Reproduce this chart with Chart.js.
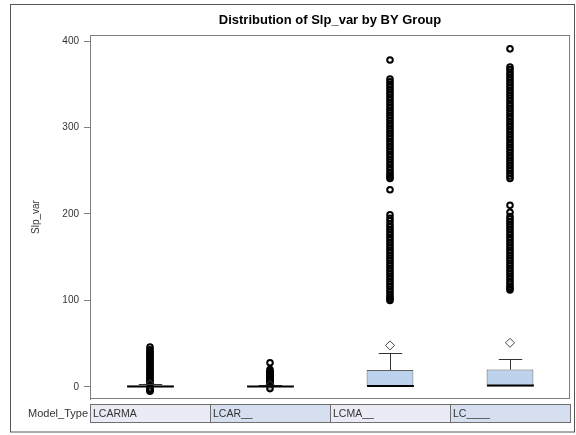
<!DOCTYPE html>
<html>
<head>
<meta charset="utf-8">
<script src="https://cdn.jsdelivr.net/npm/chart.js@4.4.1/dist/chart.umd.min.js"></script>
<style>
  body { margin: 0; background: #fff; }
  canvas { display: block; }
</style>
</head>
<body>
<canvas id="myChart" width="576" height="435"></canvas>
<script>
// groups and box statistics
const groups = ["LCARMA", "LCAR__", "LCMA__", "LC____"];
const q1 = [0, 0, 0, 0];
const median = [0.5, 0.5, 1, 1.5];
const q3 = [1.5, 1, 19.5, 20];
const whiskerLo = [-1.5, -1, 0, 0];
const whiskerHi = [3.5, 2.5, 39, 32];
const means = [3, 2, 48, 51];
const yTicks = [0, 100, 200, 300, 400];

// outliers per group
const outLCARMA = [46, 43, 41, 39, 37, 35, 33, 31, 29, 27, 25, 23, 21, 19, 17, 15, 13, 11, 9, 7, 5, 4, -2, -3, -4, -5];
const outLCAR = [28, 20, 18, 17, 16, 15, 14, 13, 12, 11, 10, 9, 8, 7, 6, 5, 4, -2];
const outLCMA = [378, 356, 353, 350, 347, 344, 341, 338, 335, 332, 329, 326, 323, 320, 317, 314, 311, 308,
    305, 302, 299, 296, 293, 290, 287, 284, 281, 278, 275, 272, 269, 266, 263, 260, 257, 254, 251, 248,
    245, 243, 241, 228, 199, 195, 192, 188, 185, 182, 179, 176, 173, 170, 167, 164, 161, 158, 155, 152,
    149, 146, 143, 140, 137, 134, 131, 128, 125, 122, 119, 116, 113, 110, 107, 104, 102, 100];
const outLC = [391, 370, 367, 364, 361, 358, 355, 352, 349, 346, 343, 340, 337, 334, 331, 328, 325, 322,
    319, 316, 313, 310, 307, 304, 301, 298, 295, 292, 289, 286, 283, 280, 277, 274, 271, 268, 265, 262,
    259, 256, 253, 250, 247, 244, 241, 210, 202, 197, 194, 191, 188, 185, 182, 179, 176, 173, 170, 167,
    164, 161, 158, 155, 152, 149, 146, 143, 140, 137, 134, 131, 128, 125, 122, 119, 116, 114, 112];
const outliers = [outLCARMA, outLCAR, outLCMA, outLC];

const FONT = "'Liberation Sans', Arial, sans-serif";

function pts(i, list) {
    return list.map(v => ({ x: groups[i], y: v }));
}

// page frame, title and the Model_Type strip
const decor = {
    id: 'decor',
    beforeDraw(chart) {
        const c = chart.ctx;
        c.save();
        c.fillStyle = '#fff';
        c.fillRect(0, 0, chart.width, chart.height);
        c.restore();
    },
    afterDraw(chart) {
        const c = chart.ctx;
        const a = chart.chartArea;
        const x = chart.scales.x;
        c.save();
        c.strokeStyle = '#555';
        c.lineWidth = 1;
        c.strokeRect(10.5, 4.5, 564, 427.5);

        c.strokeStyle = '#7f7f7f';
        c.strokeRect(a.left + 0.5, a.top + 0.5, a.right - a.left - 1, a.bottom - a.top - 1);

        c.fillStyle = '#000';
        c.font = 'bold 13px ' + FONT;
        c.textAlign = 'center';
        c.textBaseline = 'middle';
        c.fillText('Distribution of Slp_var by BY Group', (a.left + a.right) / 2, 20);

        const top = a.bottom + 5, h = 18;
        const w = x.getPixelForValue(1) - x.getPixelForValue(0);
        groups.forEach((g, i) => {
            const cx = x.getPixelForValue(i);
            const l = cx - w / 2;
            c.fillStyle = i % 2 ? '#d5dff0' : '#ebebf5';
            c.fillRect(l, top, w, h);
            c.strokeStyle = '#6f6f6f';
            c.strokeRect(Math.round(l) + 0.5, top + 0.5, w, h);
            c.fillStyle = '#333';
            c.font = '10.5px ' + FONT;
            c.textAlign = 'left';
            c.fillText(g, l + 3, top + h / 2 + 1);
        });
        c.fillStyle = '#333';
        c.font = '11px ' + FONT;
        c.textAlign = 'right';
        c.fillText('Model_Type', a.left - 2, top + h / 2 + 1);
        c.restore();
    }
};

// whiskers and medians
const boxParts = {
    id: 'boxParts',
    afterDatasetsDraw(chart) {
        const c = chart.ctx;
        const x = chart.scales.x, y = chart.scales.y;
        const bw = chart.getDatasetMeta(0).data[0].width;
        c.save();
        groups.forEach((g, i) => {
            const cx = Math.round(x.getPixelForValue(i)) + 0.5;
            c.strokeStyle = '#333';
            c.lineWidth = 1;
            c.beginPath();
            c.moveTo(cx, y.getPixelForValue(q3[i]));
            c.lineTo(cx, y.getPixelForValue(whiskerHi[i]));
            c.moveTo(cx - bw / 4, Math.round(y.getPixelForValue(whiskerHi[i])) + 0.5);
            c.lineTo(cx + bw / 4, Math.round(y.getPixelForValue(whiskerHi[i])) + 0.5);
            c.moveTo(cx, y.getPixelForValue(q1[i]));
            c.lineTo(cx, y.getPixelForValue(whiskerLo[i]));
            c.stroke();
            c.strokeStyle = '#000';
            c.lineWidth = 2;
            c.beginPath();
            c.moveTo(cx - bw / 2, y.getPixelForValue(median[i]));
            c.lineTo(cx + bw / 2, y.getPixelForValue(median[i]));
            c.stroke();
        });
        c.restore();
    }
};

const datasets = [{
    type: 'bar',
    data: groups.map((g, i) => [q1[i], q3[i]]),
    backgroundColor: '#bdd2ec',
    borderColor: '#5f5f5f',
    borderWidth: 1,
    borderSkipped: false,
    barPercentage: 0.39,
    categoryPercentage: 1,
    order: 2
}];
outliers.forEach((list, i) => {
    datasets.push({
        type: 'line',
        data: pts(i, list),
        showLine: false,
        pointStyle: 'circle',
        pointRadius: 2.8,
        pointBorderWidth: 2,
        pointBorderColor: '#000',
        pointBackgroundColor: 'rgba(0,0,0,0)',
        order: 1
    });
});
datasets.push({
    type: 'line',
    data: groups.map((g, i) => ({ x: g, y: means[i] })),
    showLine: false,
    pointStyle: 'rectRot',
    pointRadius: 4.5,
    pointBorderWidth: 1,
    pointBorderColor: '#444',
    pointBackgroundColor: 'rgba(0,0,0,0)',
    order: 0
});

const ctx = document.getElementById('myChart');
const myChart = new Chart(ctx, {
    data: { labels: groups, datasets: datasets },
    options: {
        responsive: false,
        animation: false,
        layout: { padding: { left: 0, right: 3, top: 35, bottom: 36 } },
        plugins: { legend: { display: false }, tooltip: { enabled: false } },
        scales: {
            x: {
                type: 'category',
                offset: true,
                afterFit: s => { s.height = 0; },
                ticks: { display: false },
                grid: { display: false },
                border: { display: false }
            },
            y: {
                min: -14,
                max: 407,
                afterBuildTicks: s => { s.ticks = yTicks.map(v => ({ value: v })); },
                afterFit: s => { s.width = 90; },
                ticks: { color: '#333', padding: 5, font: { family: FONT, size: 10 } },
                grid: { drawOnChartArea: false, tickLength: 6, color: '#7f7f7f' },
                border: { color: '#7f7f7f' },
                title: {
                    display: true,
                    text: 'Slp_var',
                    color: '#333',
                    padding: { top: 30, bottom: 0 },
                    font: { family: FONT, size: 10 }
                }
            }
        }
    },
    plugins: [decor, boxParts]
});
</script>
</body>
</html>
